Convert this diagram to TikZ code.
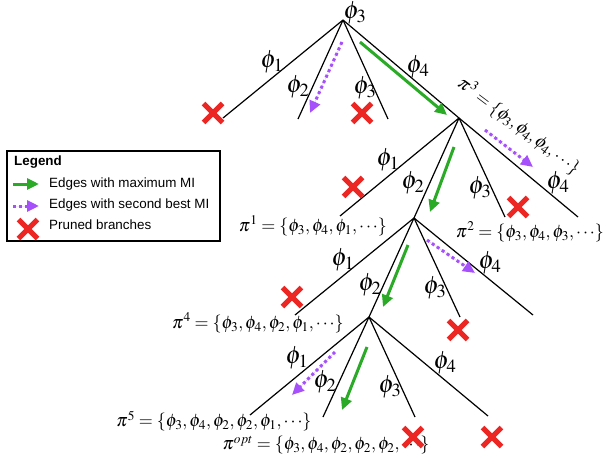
\documentclass[tikz,border=0pt]{standalone}
\usepackage{mathptmx}
\usepackage[no-math]{fontspec}
\setmainfont{Liberation Sans}
\usetikzlibrary{arrows.meta,shapes.misc}
\definecolor{mygreen}{RGB}{42,170,38}
\definecolor{mypurple}{RGB}{165,80,250}
\definecolor{myred}{RGB}{235,38,35}
\tikzset{
  edge/.style={line width=1.2pt,black},
  lab/.style={inner sep=0pt,font=\fontsize{25}{28}\selectfont},
  setlab/.style={inner sep=0pt,font=\fontsize{18}{20}\selectfont},
  bestarrow/.style={draw=mygreen,line width=3pt,-{Triangle[length=12pt,width=11pt]},fill=mygreen},
  secondarrow/.style={draw=mypurple,line width=3pt,dash pattern=on 3pt off 3pt,-{Triangle[length=12pt,width=11pt]},fill=mypurple},
  pruned/.style={cross out,draw=myred,line width=5pt,minimum size=14pt,inner sep=0pt},
  legtext/.style={anchor=west,inner sep=0pt,font=\fontsize{13.4}{15}\selectfont}
}
\begin{document}
\begin{tikzpicture}[x=1pt,y=-1pt]
\useasboundingbox (0,0) rectangle (605,466);
% tree coordinates
\coordinate (R0) at (343,20);
\coordinate (a1) at (223,118);
\coordinate (a2) at (298,119);
\coordinate (a3) at (388,119);
\coordinate (N1) at (459,118);
\coordinate (b1) at (340,216);
\coordinate (N2) at (414,218);
\coordinate (b3) at (505,217);
\coordinate (b4) at (578,217);
\coordinate (c1) at (295,315);
\coordinate (N3) at (369,317);
\coordinate (c3) at (460,317);
\coordinate (c4) at (533,315);
\coordinate (d1) at (250,415);
\coordinate (d2) at (323,417);
\coordinate (d3) at (415,417);
\coordinate (d4) at (488,416);
% edges
\foreach \p/\c in {R0/a1,R0/a2,R0/a3,R0/N1,N1/b1,N1/N2,N1/b3,N1/b4,N2/c1,N2/N3,N2/c3,N2/c4,N3/d1,N3/d2,N3/d3,N3/d4}
  \draw[edge] (\p) -- (\c);
% labels
\node[lab] (lr) at (355,13) {$\phi_3$};
\node[lab] (l11) at (272,62) {$\phi_1$};
\node[lab] (l12) at (298,87) {$\phi_2$};
\node[lab] (l13) at (365,88) {$\phi_3$};
\node[lab] (l14) at (418,67) {$\phi_4$};
\node[lab] (l21) at (388,160) {$\phi_1$};
\node[lab] (l22) at (413,183) {$\phi_2$};
\node[lab] (l23) at (480,188) {$\phi_3$};
\node[lab] (l24) at (558,183) {$\phi_4$};
\node[lab] (l31) at (343,260) {$\phi_1$};
\node[lab] (l32) at (370,285) {$\phi_2$};
\node[lab] (l33) at (435,288) {$\phi_3$};
\node[lab] (l34) at (490,263) {$\phi_4$};
\node[lab] (l41) at (297,358) {$\phi_1$};
\node[lab] (l42) at (325,382) {$\phi_2$};
\node[lab] (l43) at (390,387) {$\phi_3$};
\node[lab] (l44) at (445,363) {$\phi_4$};
% policy sets
\node[setlab] (p1) at (313,226) {$\pi^1=\{\phi_3,\phi_4,\phi_1,\cdots\}$};
\node[setlab] (p2) at (530,232) {$\pi^2=\{\phi_3,\phi_4,\phi_3,\cdots\}$};
\node[setlab,rotate=-37] (p3) at (519,126) {$\pi^3=\{\phi_3,\phi_4,\phi_4,\cdots\}$};
\node[setlab] (p4) at (258,323) {$\pi^4=\{\phi_3,\phi_4,\phi_2,\phi_1,\cdots\}$};
\node[setlab] (p5) at (214,421) {$\pi^5=\{\phi_3,\phi_4,\phi_2,\phi_2,\phi_1,\cdots\}$};
\node[setlab] (popt) at (326,445) {$\pi^{opt}=\{\phi_3,\phi_4,\phi_2,\phi_2,\phi_2,\cdots\}$};
% arrows
\coordinate (g1s) at (360,42);  \coordinate (g1e) at (447,115);
\coordinate (g2s) at (454,147); \coordinate (g2e) at (430,212);
\coordinate (g3s) at (408,245); \coordinate (g3e) at (383,307);
\coordinate (g4s) at (367,347); \coordinate (g4e) at (342,410);
\coordinate (s1s) at (342,42);  \coordinate (s1e) at (310,113);
\coordinate (s2s) at (485,130); \coordinate (s2e) at (533,167);
\coordinate (s3s) at (427,240); \coordinate (s3e) at (475,273);
\coordinate (s4s) at (335,352); \coordinate (s4e) at (292,395);
\foreach \s/\e in {g1s/g1e,g2s/g2e,g3s/g3e,g4s/g4e}
  \draw[bestarrow] (\s) -- (\e);
\foreach \s/\e in {s1s/s1e,s2s/s2e,s3s/s3e,s4s/s4e}
  \draw[secondarrow] (\s) -- (\e);
% pruned marks
\node[pruned] (x1) at (213,113) {};
\node[pruned] (x2) at (362,113) {};
\node[pruned] (x3) at (353,187) {};
\node[pruned] (x4) at (518,207) {};
\node[pruned] (x5) at (292,297) {};
\node[pruned] (x6) at (458,330) {};
\node[pruned] (x7) at (413,437) {};
\node[pruned] (x8) at (492,437) {};
% legend
\draw[line width=2.5pt] (7,151) rectangle (220,241);
\node[legtext,font=\fontsize{13.4}{15}\selectfont\bfseries] (lg) at (14,162) {Legend};
\coordinate (lga) at (13,184); \coordinate (lgb) at (39,184);
\coordinate (lpa) at (13,206); \coordinate (lpb) at (39,206);
\draw[bestarrow] (lga) -- (lgb);
\draw[secondarrow] (lpa) -- (lpb);
\node[pruned] (lx) at (28,229) {};
\node[legtext] (t1) at (49,184) {Edges with maximum MI};
\node[legtext] (t2) at (49,205) {Edges with second best MI};
\node[legtext] (t3) at (49,225) {Pruned branches};
\end{tikzpicture}
\end{document}
